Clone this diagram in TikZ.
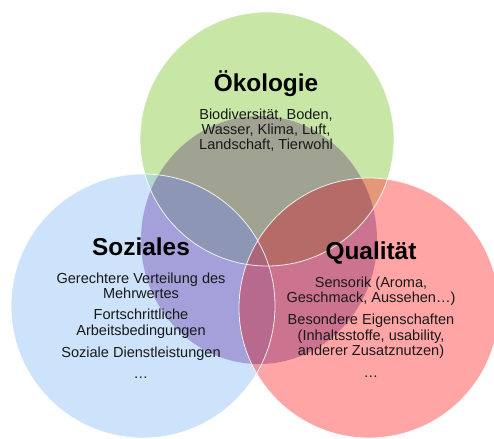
\documentclass[tikz,border=0pt]{standalone}
\usepackage{fontspec}
\setmainfont{Liberation Sans}
\definecolor{cgreen}{RGB}{146,208,80}
\definecolor{cblue}{RGB}{155,201,249}
\definecolor{cred}{RGB}{255,77,77}
\definecolor{cshade}{RGB}{204,180,222}
\begin{document}
\begin{tikzpicture}[x=1bp,y=-1bp,
  disc/.style={fill opacity=0.5},
  ring/.style={draw=white, line width=0.8bp, draw opacity=0.85},
  ttl/.style={font=\fontsize{24.5}{26}\selectfont\bfseries, anchor=base, inner sep=0pt},
  txt/.style={font=\fontsize{14.6}{15}\selectfont, anchor=base, inner sep=0pt, text=black!90}
]
\useasboundingbox (0,0) rectangle (494,439);
\fill[white] (0,0) rectangle (494,439);
% circles
\fill[disc, cgreen] (267,139) circle [radius=127];
\fill[disc, cblue] (143,306) circle [radius=132];
\fill[disc, cred] (369,308) circle [radius=130];
% shaded centre
\begin{scope}[blend mode=multiply]
\fill[cshade] (259,240) ellipse [x radius=118, y radius=124];
\end{scope}
% outlines
\draw[ring] (267,139) circle [radius=127];
\draw[ring] (143,306) circle [radius=132];
\draw[ring] (369,308) circle [radius=130];
% Oekologie
\node[ttl] (oek) at (266,92) {Ökologie};
\node[txt] (o1) at (266,120) {Biodiversität, Boden,};
\node[txt] (o2) at (266,135) {Wasser, Klima, Luft,};
\node[txt] (o3) at (266,150) {Landschaft, Tierwohl};
% Soziales
\node[ttl] (soz) at (141,255) {Soziales};
\node[txt] (s1) at (141,283) {Gerechtere Verteilung des};
\node[txt] (s2) at (141,298.5) {Mehrwertes};
\node[txt] (s3) at (141,319.5) {Fortschrittliche};
\node[txt] (s4) at (141,335) {Arbeitsbedingungen};
\node[txt] (s5) at (141,357) {Soziale Dienstleistungen};
\node[txt] (s6) at (141,378) {…};
% Qualitaet
\node[ttl] (qua) at (371,259) {Qualität};
\node[txt] (q1) at (371,287) {Sensorik (Aroma,};
\node[txt] (q2) at (371,302.5) {Geschmack, Aussehen…)};
\node[txt] (q3) at (371,324.5) {Besondere Eigenschaften};
\node[txt] (q4) at (371,340) {(Inhaltsstoffe, usability,};
\node[txt] (q5) at (371,355.5) {anderer Zusatznutzen)};
\node[txt] (q6) at (371,377) {…};
\end{tikzpicture}
\end{document}
